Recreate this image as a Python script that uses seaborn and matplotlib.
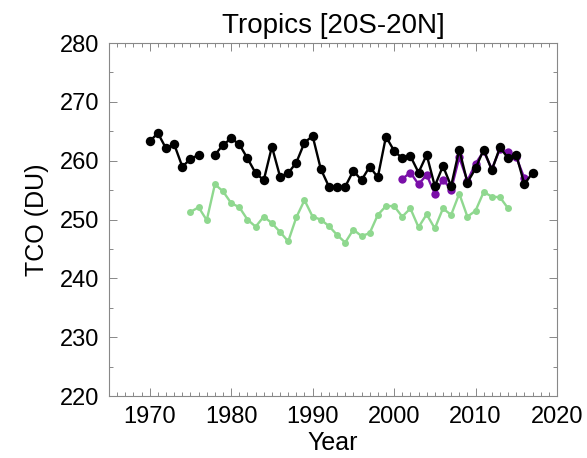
import numpy as np
import pandas as pd
import matplotlib
matplotlib.use("Agg")
import matplotlib.pyplot as plt
from matplotlib.ticker import MultipleLocator
import seaborn as sns

# Tropical total column ozone (DU), annual means
black_years = [1970, 1971, 1972, 1973, 1974, 1975, 1976,
               1978, 1979, 1980, 1981, 1982, 1983, 1984, 1985, 1986, 1987,
               1988, 1989, 1990, 1991, 1992, 1993, 1994, 1995, 1996, 1997,
               1998, 1999, 2000, 2001, 2002, 2003, 2004, 2005, 2006, 2007,
               2008, 2009, 2010, 2011, 2012, 2013, 2014, 2015, 2016, 2017]
black_tco = [263.3, 264.7, 262.1, 262.8, 259.0, 260.3, 261.0,
             261.0, 262.7, 263.8, 262.8, 260.4, 257.9, 256.7, 262.4, 257.3, 257.9,
             259.7, 263.1, 264.2, 258.6, 255.6, 255.6, 255.6, 258.3, 256.7, 259.0,
             257.2, 264.1, 261.7, 260.4, 260.8, 258.0, 261.0, 255.7, 259.1, 255.7,
             261.9, 256.3, 258.7, 261.9, 258.4, 262.3, 260.4, 261.0, 256.0, 258.0]
black_segment = [0] * 7 + [1] * 40

green_years = list(range(1975, 2015))
green_tco = [251.3, 252.1, 249.9, 256.0, 254.8, 252.8, 252.1, 250.0,
             248.8, 250.5, 249.4, 247.9, 246.3, 250.4, 253.3, 250.5,
             250.0, 248.9, 247.4, 246.1, 248.3, 247.2, 247.7, 250.8,
             252.3, 252.3, 250.5, 251.9, 248.7, 250.9, 248.5, 251.9,
             250.8, 254.4, 250.5, 251.5, 254.7, 253.9, 253.8, 251.9]

purple_years = list(range(2001, 2017))
purple_tco = [256.9, 258.0, 256.0, 257.6, 254.4, 256.8, 255.1, 260.6,
              256.6, 259.5, 261.6, 258.6, 262.0, 261.5, 260.6, 257.0]

x_ticks = [1970, 1980, 1990, 2000, 2010, 2020]
y_ticks = [220, 230, 240, 250, 260, 270, 280]

sns.set_style("ticks")
plt.rcParams["font.family"] = ["Liberation Sans", "DejaVu Sans"]
plt.rcParams["text.color"] = "black"
plt.rcParams["axes.labelcolor"] = "black"
plt.rcParams["xtick.labelcolor"] = "black"
plt.rcParams["ytick.labelcolor"] = "black"

black_df = pd.DataFrame({"year": black_years, "tco": black_tco, "seg": black_segment})
green_df = pd.DataFrame({"year": green_years, "tco": green_tco})
purple_df = pd.DataFrame({"year": purple_years, "tco": purple_tco})

fig = plt.figure(figsize=(5.87, 4.58), dpi=100)
ax = fig.add_axes([0.1857, 0.135, 0.9489 - 0.1857, 0.906 - 0.135])

sns.lineplot(data=green_df, x="year", y="tco", ax=ax, color="#8fd88f",
             marker="o", markersize=5, markeredgewidth=0, linewidth=1.7, zorder=2)
sns.lineplot(data=purple_df, x="year", y="tco", ax=ax, color="#7a0fa8",
             marker="o", markersize=6, markeredgewidth=0, linewidth=1.7, zorder=3)
sns.lineplot(data=black_df, x="year", y="tco", units="seg", estimator=None, ax=ax,
             color="black", marker="o", markersize=6.8, markeredgewidth=0,
             linewidth=1.7, zorder=4)

ax.set_xlim(1965, 2020)
ax.set_ylim(220, 280)
ax.set_xticks(x_ticks)
ax.set_yticks(y_ticks)
ax.xaxis.set_minor_locator(MultipleLocator(1))
ax.yaxis.set_minor_locator(MultipleLocator(5))

for side in ["left", "right", "top", "bottom"]:
    ax.spines[side].set_visible(True)
    ax.spines[side].set_color("#888888")
    ax.spines[side].set_linewidth(0.8)

ax.tick_params(which="both", direction="in", top=True, right=True,
               color="#888888", labelcolor="black", width=0.7,
               labelsize=17, pad=7)
ax.tick_params(which="major", length=6)
ax.tick_params(which="minor", length=3)

ax.set_xlabel("Year", fontsize=18, labelpad=2, color="black")
ax.set_ylabel("TCO (DU)", fontsize=18, labelpad=8, color="black")
ax.set_title("Tropics [20S-20N]", fontsize=20, pad=7, color="black")

fig.savefig("out.png", dpi=100)
